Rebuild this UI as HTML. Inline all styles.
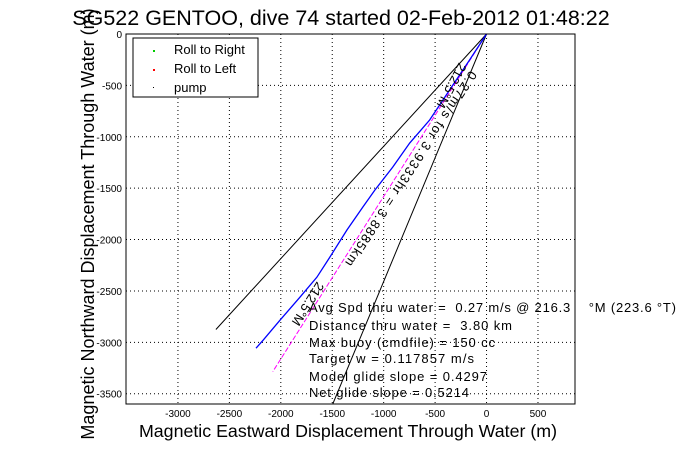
<!DOCTYPE html>
<html><head><meta charset="utf-8"><style>
body{margin:0;background:#fff;}
svg{display:block;font-family:"Liberation Sans",sans-serif;}
text{white-space:pre;}
</style></head><body>
<svg id="chart" width="681" height="454" xmlns="http://www.w3.org/2000/svg">
<rect width="681" height="454" fill="#fff"/>
<g id="grid"></g>
<g id="marks"></g>
<rect x="126" y="34" width="449" height="370" fill="none" stroke="#000" stroke-width="1"/>
<g id="ticks" font-size="10"></g>
<text x="341" y="25" font-size="21.5" text-anchor="middle">SG522 GENTOO, dive 74 started 02-Feb-2012 01:48:22</text>
<text x="348" y="437" font-size="17.8" text-anchor="middle">Magnetic Eastward Displacement Through Water (m)</text>
<text transform="translate(94,224) rotate(-90)" font-size="18" text-anchor="middle">Magnetic Northward Displacement Through Water (m)</text>
<g>
<rect x="133" y="38" width="125" height="59" fill="#fff" stroke="#000"/>
<rect x="153" y="50" width="2" height="2" fill="#0c0"/>
<text x="174" y="54" font-size="13">Roll to Right</text>
<rect x="153" y="69" width="2" height="2" fill="#f00"/>
<text x="174" y="73" font-size="13">Roll to Left</text>
<rect x="153" y="87" width="1" height="1" fill="#000"/>
<text x="174" y="92" font-size="13">pump</text>
</g>
<g font-size="13">
<text transform="translate(459,62) rotate(118)">212.5°M</text>
<text transform="translate(470,70) rotate(123)" textLength="230">0.27m/s for 3.9333hr = 3.8885km</text>
<text transform="translate(317,281) rotate(122)">212.5°M</text>
</g>
<g font-size="13">
<text x="309" y="312" textLength="367">Avg Spd thru water =  0.27 m/s @ 216.3    °M (223.6 °T)</text>
<text x="309" y="330" textLength="203">Distance thru water =  3.80 km</text>
<text x="309" y="347" textLength="186">Max buoy (cmdfile) = 150 cc</text>
<text x="309" y="363" textLength="165">Target w = 0.117857 m/s</text>
<text x="309" y="381" textLength="178">Model glide slope = 0.4297</text>
<text x="309" y="397" textLength="160">Net glide slope = 0.5214</text>
</g>
</svg>
<script>
const xTicks=[-3000,-2500,-2000,-1500,-1000,-500,0,500];
const yTicks=[0,-500,-1000,-1500,-2000,-2500,-3000,-3500];
const trackX=[0,-165,-359,-553,-747,-912,-1086,-1203,-1358,-1523,-1649,-1814,-2008,-2173,-2241];
const trackY=[0,-253,-545,-837,-1061,-1295,-1519,-1685,-1908,-2171,-2366,-2561,-2785,-2980,-3057];
const refEndX=[-2631,-2078,-1495];
const refEndY=[-2875,-3285,-3600];
const X0=-3505,X1=860,Y0=-3600,Y1=0;
const xs=v=>126+(v-X0)/(X1-X0)*449;
const ys=v=>34+(Y1-v)/(Y1-Y0)*370;
const NS="http://www.w3.org/2000/svg";
function mk(t,a,p){const e=document.createElementNS(NS,t);for(const k in a)e.setAttribute(k,a[k]);p.appendChild(e);return e;}
const grid=document.getElementById('grid'),ticks=document.getElementById('ticks'),marks=document.getElementById('marks');
xTicks.forEach(v=>{
 const l=mk('line',{x1:xs(v),x2:xs(v),y1:34,y2:404,stroke:'#000','stroke-dasharray':'1,3'},grid);
 
 
 const t=mk('text',{x:xs(v),y:417,'text-anchor':'middle'},ticks);t.textContent=v;
 
 
});
yTicks.forEach(v=>{
 const l=mk('line',{x1:126,x2:575,y1:ys(v),y2:ys(v),stroke:'#000','stroke-dasharray':'1,3'},grid);
 
 
 const t=mk('text',{x:122,y:ys(v)+4,'text-anchor':'end'},ticks);t.textContent=v;
 
 
});
refEndX.forEach((v,i)=>{
 const l=mk('line',{x1:xs(0),y1:ys(0),x2:xs(v),y2:ys(refEndY[i]),stroke:i==1?'#f0f':'#000','stroke-width':1,'stroke-dasharray':i==1?'5,2':''},marks);
 
 
});
const p=mk('polyline',{points:trackX.map((v,i)=>xs(v)+','+ys(trackY[i])).join(' '),fill:'none',stroke:'#00f','stroke-width':1.3},marks);


</script>
</body></html>
